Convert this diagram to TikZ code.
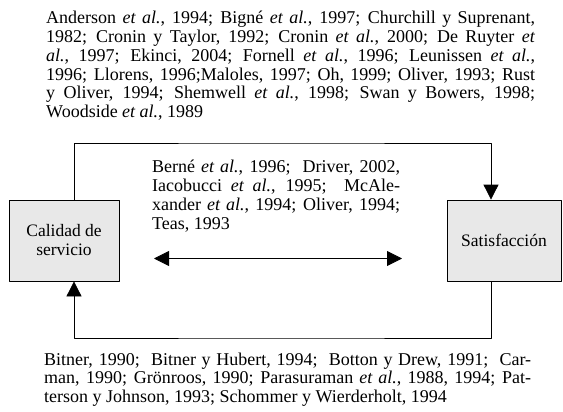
\documentclass[tikz,border=0pt]{standalone}
\usepackage{fontspec}
\setmainfont{Liberation Serif}
\usetikzlibrary{arrows.meta}

\begin{document}
\begin{tikzpicture}[line cap=round,line join=round,>={Triangle[length=15pt,width=15pt]},x=1pt,y=-1pt,
    box/.style={draw,line width=0.8pt,fill=gray!18,inner sep=0pt,align=center,font=\fontsize{17.5}{19}\selectfont},
    refs/.style={anchor=base west,inner sep=0pt,align=justify}]
    \useasboundingbox (0,0) rectangle (563,412);
    \node[refs,text width=489pt,font=\fontsize{18}{18.7}\selectfont] (top) at (46,24)
    {Anderson \textit{et al.}, 1994; Bigné \textit{et al.}, 1997; Churchill y Suprenant,\linebreak
     1982; Cronin y Taylor, 1992; Cronin \textit{et al.}, 2000; De Ruyter \textit{et}\linebreak
     \textit{al.}, 1997; Ekinci, 2004; Fornell \textit{et al.}, 1996; Leunissen \textit{et al.},\linebreak
     1996; Llorens, 1996;Maloles, 1997; Oh, 1999; Oliver, 1993; Rust\linebreak
     y Oliver, 1994; Shemwell \textit{et al.}, 1998; Swan y Bowers, 1998;\linebreak
     Woodside \textit{et al.}, 1989};
    \node[box,minimum width=110pt,minimum height=81pt] (cal) at (64,240.5) {Calidad de\\servicio};
    \node[box,minimum width=114pt,minimum height=81pt] (sat) at (504,240.5) {Satisfacción};
    \node[refs,text width=248pt,font=\fontsize{18}{19.3}\selectfont] (mid) at (152,172)
    {Berné \textit{et al.}, 1996;\ \ Driver, 2002,\linebreak
     Iacobucci \textit{et\ al.}, 1995;\ \ McAle-\linebreak
     xander \textit{et al.}, 1994; Oliver, 1994;\linebreak
     Teas, 1993};
    \node[refs,text width=487pt,font=\fontsize{18}{18.5}\selectfont] (bot) at (44,365)
    {Bitner, 1990;\ \ Bitner y Hubert, 1994;\ \ Botton y Drew, 1991;\ \ Car-\linebreak
     man, 1990; Grönroos, 1990; Parasuraman \textit{et al.}, 1988, 1994; Pat-\linebreak
     terson y Johnson, 1993; Schommer y Wierderholt, 1994};
    \coordinate (lx) at (74,0);
    \coordinate (rx) at (491,0);
    \coordinate (hi) at (280,143);
    \coordinate (lo) at (280,338);
    \coordinate (dl) at (154,258.5);
    \coordinate (dr) at (402,258.5);
    \draw[->,line width=0.8pt] (cal.north -| lx) |- (hi) -| (sat.north -| rx);
    \draw[->,line width=0.8pt] (sat.south -| rx) |- (lo) -| (cal.south -| lx);
    \draw[<->,line width=0.8pt] (dl) -- (dr);
\end{tikzpicture}
\end{document}
